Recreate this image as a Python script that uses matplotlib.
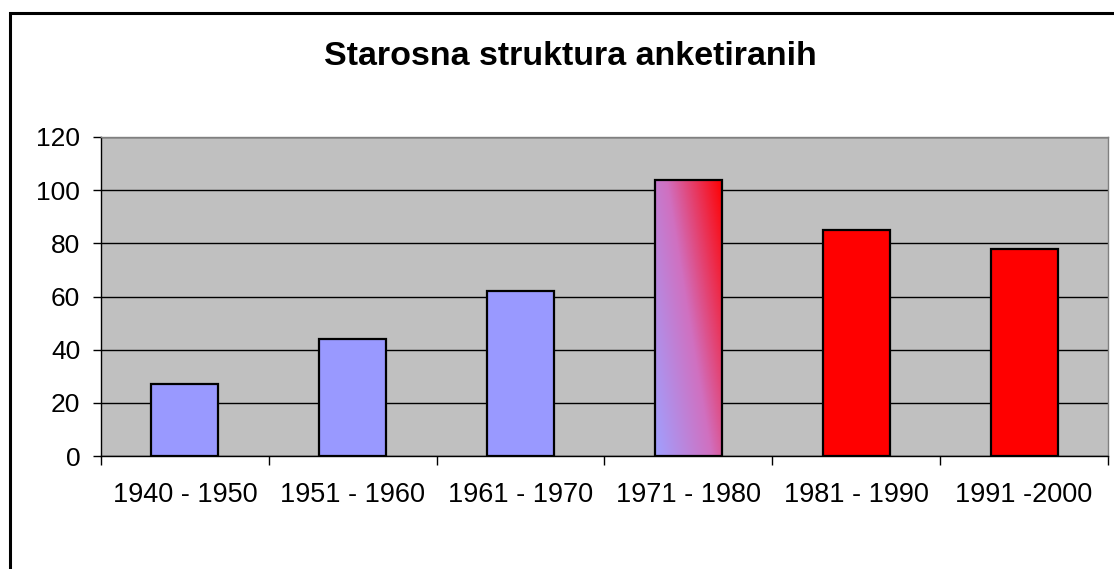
import matplotlib
matplotlib.use("Agg")
import matplotlib.pyplot as plt
import numpy as np
from matplotlib.patches import Rectangle
from matplotlib.colors import LinearSegmentedColormap

categories = ["1940 - 1950", "1951 - 1960", "1961 - 1970", "1971 - 1980", "1981 - 1990", "1991 -2000"]
values = [27, 44, 62, 104, 85, 78]
bar_colors = ["#9999FF", "#9999FF", "#9999FF", "gradient", "#FF0000", "#FF0000"]
title = "Starosna struktura anketiranih"
yticks = [0, 20, 40, 60, 80, 100, 120]

plt.rcParams['font.family'] = ['Liberation Sans', 'DejaVu Sans']

W, H = 1114, 569
fig = plt.figure(figsize=(W / 100, H / 100), dpi=100)
fig.patch.set_facecolor("white")

left, right, top, bottom = 101, 1108, 137, 456
ax = fig.add_axes([left / W, 1 - bottom / H, (right - left) / W, (bottom - top) / H])
ax.set_facecolor("#C0C0C0")

x = np.arange(len(categories))
fills = [c if c != "gradient" else "none" for c in bar_colors]
bars = ax.bar(x, values, width=0.4, color=fills, edgecolor="black", linewidth=1.6, zorder=3)

cmap = LinearSegmentedColormap.from_list("g", ["#A0A0FF", "#D070C0", "#FF0000"])
for b, c in zip(bars, bar_colors):
    if c == "gradient":
        bx, bw, bh = b.get_x(), b.get_width(), b.get_height()
        gx = np.linspace(0, 1, 100)[None, :]
        gy = np.linspace(0, 1, 200)[:, None]
        grad = 0.6 * gx + 0.4 * gy
        im = ax.imshow(grad, cmap=cmap, vmin=0, vmax=1, origin="lower",
                       extent=(bx, bx + bw, 0, bh), aspect="auto", zorder=2.5,
                       interpolation="bilinear")
        im.set_clip_path(b)

ax.set_xlim(-0.5, len(categories) - 0.5)
ax.set_ylim(0, 120)
ax.set_yticks(yticks)
ax.set_yticklabels([str(v) for v in yticks], fontsize=19)
ax.yaxis.grid(True, color="black", linewidth=1.0, zorder=1)
ax.set_axisbelow(True)

ax.set_xticks(np.arange(-0.5, len(categories), 1.0))
ax.set_xticklabels([])
ax.set_xticks(x, minor=True)
ax.set_xticklabels(categories, minor=True, fontsize=19.5)
ax.tick_params(axis="x", which="major", direction="out", length=6.5, width=1, color="black")
ax.tick_params(axis="x", which="minor", length=0, pad=19)
ax.tick_params(axis="y", direction="out", length=6, width=1, pad=9)

for s in ["top", "right"]:
    ax.spines[s].set_color("#808080")
    ax.spines[s].set_linewidth(1)
ax.spines["left"].set_color("black")
ax.spines["bottom"].set_color("black")
ax.spines["left"].set_linewidth(1)
ax.spines["bottom"].set_linewidth(1)

fig.text(570 / W, 1 - 65 / H, title, ha="center", va="baseline",
         fontsize=24.5, fontweight="bold")

fig.add_artist(Rectangle((9.5 / W, -0.2), 1.5, 1.2 - 13 / H, transform=fig.transFigure,
                         fill=False, edgecolor="black", linewidth=2.2))

fig.savefig("out.png", dpi=100)
